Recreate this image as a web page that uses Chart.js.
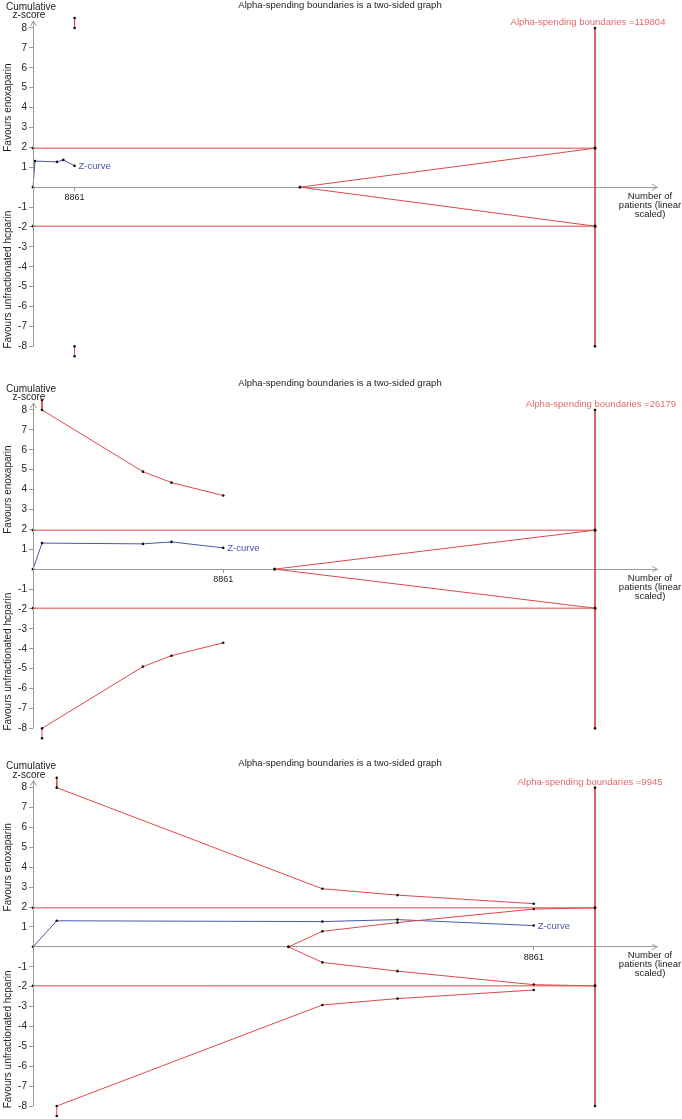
<!DOCTYPE html>
<html>
<head>
<meta charset="utf-8">
<script src="https://cdn.jsdelivr.net/npm/chart.js@4"></script>
<style>
  html, body { margin: 0; padding: 0; background: #fff; overflow: hidden; }
  #wrap { position: relative; width: 682px; height: 1119px; }
  #wrap canvas { position: absolute; left: 0; }
</style>
</head>
<body>
<div id="wrap">
  <canvas id="panel1" width="682" height="370" style="top:0px"></canvas>
  <canvas id="panel2" width="682" height="382" style="top:370px"></canvas>
  <canvas id="panel3" width="682" height="392" style="top:740px"></canvas>
</div>
<script>
// --- data ---
const zPatients = [0, 420, 5120, 6450, 8861];
const zScores = [0, 1.31, 1.27, 1.37, 1.07];
const conventionalZ = 1.96;
const requiredInfo = [119804, 26179, 9945];

const outerPatients1 = [8861, 8861];
const outerZ1 = [8.5, 8.0];
const outerPatients2 = [420, 420, 5120, 6450, 8861];
const outerZ2 = [8.5, 8.0, 4.9, 4.35, 3.7];
const outerPatients3 = [420, 420, 5120, 6450, 8861];
const outerZ3 = [8.5, 8.0, 2.92, 2.6, 2.17];

const innerPatients1 = [56900, 119804];
const innerZ1 = [0, 1.96];
const innerPatients2 = [11255, 26179];
const innerZ2 = [0, 1.96];
const innerPatients3 = [4520, 5120, 6450, 8861, 9945];
const innerZ3 = [0, 0.78, 1.22, 1.9, 1.96];

const finalZ = [8, 1.96, -1.96, -8];
const yTicks = [-8, -7, -6, -5, -4, -3, -2, -1, 1, 2, 3, 4, 5, 6, 7, 8];
const xTicks = [8861];

const titleText = "Alpha-spending boundaries is a two-sided graph";
const upperLabel = "Favours enoxaparin";
const lowerLabel = "Favours unfractionated hcparin";

const RED = "#e04848";
const BLUE = "#4a55a8";
const GREY = "#9a9a9a";
const FONT = "'Liberation Sans', Arial, sans-serif";

// y range -8.55..8.35 at ~19.9px per unit (canvases overlap a little, they are transparent)
const panels = [
  { id: "panel1", total: requiredInfo[0], outerX: outerPatients1, outerY: outerZ1, innerX: innerPatients1, innerY: innerZ1, padTop: 21, padBottom: 12.7, titleDy: -23, infoX: 588 },
  { id: "panel2", total: requiredInfo[1], outerX: outerPatients2, outerY: outerZ2, innerX: innerPatients2, innerY: innerZ2, padTop: 33, padBottom: 12.7, titleDy: -27, infoX: 601 },
  { id: "panel3", total: requiredInfo[2], outerX: outerPatients3, outerY: outerZ3, innerX: innerPatients3, innerY: innerZ3, padTop: 40.7, padBottom: 15, titleDy: -24, infoX: 590 }
];

const pts = (xs, ys, sign = 1) => xs.map((x, i) => ({ x: x, y: sign * ys[i] }));

function lineSet(data, color) {
  return {
    data: data,
    borderColor: color,
    borderWidth: 1,
    pointRadius: 1.3,
    pointBackgroundColor: "#111",
    pointBorderWidth: 0,
    tension: 0,
    clip: false
  };
}

// draws the text and arrows that chart.js has no option for
const decorations = {
  id: "decorations",
  afterDraw(chart) {
    const p = chart.options.plugins.decorations;
    const ctx = chart.ctx;
    const xs = chart.scales.x, ys = chart.scales.y;
    const area = chart.chartArea;
    const y8 = ys.getPixelForValue(8);
    const y0 = ys.getPixelForValue(0);
    const yMinus8 = ys.getPixelForValue(-8);
    const left = area.left, right = area.right;

    ctx.save();
    // y axis line (from -8 up to the arrow) and arrows
    ctx.strokeStyle = GREY;
    ctx.lineWidth = 1;
    ctx.beginPath();
    ctx.moveTo(left + 0.5, yMinus8); ctx.lineTo(left + 0.5, area.top);
    ctx.moveTo(right - 5, y0 - 3); ctx.lineTo(right, y0); ctx.lineTo(right - 5, y0 + 3);
    ctx.moveTo(left - 2.5, area.top + 5); ctx.lineTo(left + 0.5, area.top); ctx.lineTo(left + 3.5, area.top + 5);
    ctx.stroke();

    ctx.fillStyle = "#222";
    ctx.textAlign = "center";
    ctx.textBaseline = "middle";
    ctx.font = "9.5px " + FONT;
    ctx.fillText(titleText, 340, y8 + p.titleDy);

    ctx.font = "10px " + FONT;
    ctx.fillText("Cumulative", 31, y8 - 21);
    ctx.fillText("z-score", 29, y8 - 12.5);

    ctx.font = "9.5px " + FONT;
    ctx.fillText("Number of", 650, y0 + 9);
    ctx.fillText("patients (linear", 650, y0 + 18);
    ctx.fillText("scaled)", 650, y0 + 27);

    // rotated side labels
    ctx.font = "10px " + FONT;
    ctx.save();
    ctx.translate(8, ys.getPixelForValue(4));
    ctx.rotate(-Math.PI / 2);
    ctx.fillText(upperLabel, 0, 0);
    ctx.restore();
    ctx.save();
    ctx.translate(8, ys.getPixelForValue(-4.65));
    ctx.rotate(-Math.PI / 2);
    ctx.fillText(lowerLabel, 0, 0);
    ctx.restore();

    ctx.fillStyle = "#e06a6a";
    ctx.font = "9.5px " + FONT;
    ctx.fillText("Alpha-spending boundaries =" + p.total, p.infoX, y8 - 5.5);

    const last = zPatients.length - 1;
    ctx.fillStyle = BLUE;
    ctx.textAlign = "left";
    ctx.fillText("Z-curve", xs.getPixelForValue(zPatients[last]) + 4, ys.getPixelForValue(zScores[last]) + 0.5);
    ctx.restore();
  }
};

function makePanel(cfg) {
  const total = cfg.total;
  const datasets = [
    lineSet([{ x: 0, y: conventionalZ }, { x: total, y: conventionalZ }], RED),
    lineSet([{ x: 0, y: -conventionalZ }, { x: total, y: -conventionalZ }], RED),
    lineSet(pts(cfg.outerX, cfg.outerY), RED),
    lineSet(pts(cfg.outerX, cfg.outerY, -1), RED),
    lineSet(pts(cfg.innerX, cfg.innerY), RED),
    lineSet(pts(cfg.innerX, cfg.innerY, -1), RED),
    lineSet(finalZ.map(z => ({ x: total, y: z })), RED),
    lineSet(pts(zPatients, zScores), BLUE)
  ];

  new Chart(document.getElementById(cfg.id), {
    type: "line",
    data: { datasets: datasets },
    plugins: [decorations],
    options: {
      responsive: false,
      animation: false,
      devicePixelRatio: 1,
      layout: { padding: { left: 0, right: 25, top: cfg.padTop, bottom: cfg.padBottom } },
      plugins: {
        legend: { display: false },
        tooltip: { enabled: false },
        decorations: { total: total, titleDy: cfg.titleDy, infoX: cfg.infoX }
      },
      scales: {
        x: {
          type: "linear",
          position: { y: 0 },
          min: 0,
          max: total * 624 / 562,
          afterBuildTicks: s => { s.ticks = xTicks.map(v => ({ value: v })); },
          afterFit: s => { s.paddingLeft = 0; s.paddingRight = 0; },
          grid: { drawOnChartArea: false, drawTicks: true, tickLength: 3, color: GREY },
          border: { color: GREY },
          ticks: { color: "#222", font: { size: 9, family: FONT }, padding: 2, maxRotation: 0, autoSkip: false, callback: v => String(v) }
        },
        y: {
          type: "linear",
          min: -8.55,
          max: 8.35,
          afterBuildTicks: s => { s.ticks = yTicks.map(v => ({ value: v })); },
          afterFit: s => { s.width = 33; s.paddingTop = 0; s.paddingBottom = 0; },
          grid: { drawOnChartArea: false, drawTicks: true, tickLength: 4, color: GREY },
          border: { display: false },
          ticks: { color: "#222", font: { size: 10, family: FONT }, padding: 2 }
        }
      }
    }
  });
}

panels.forEach(makePanel);
</script>
</body>
</html>
